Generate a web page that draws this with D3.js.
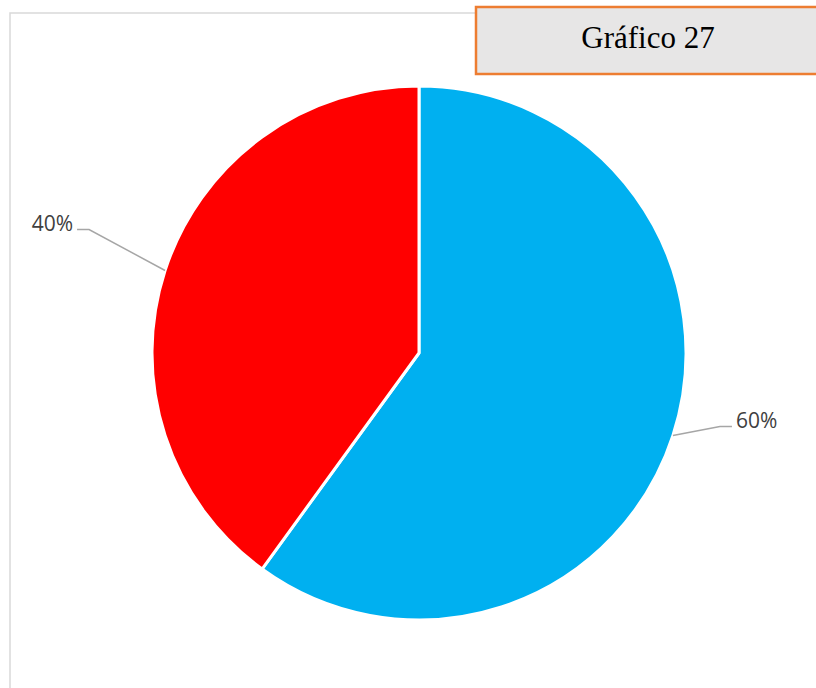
<!DOCTYPE html>
<html>
<head>
<meta charset="utf-8">
<script src="https://cdn.jsdelivr.net/npm/d3@7"></script>
<style>
  html, body { margin: 0; padding: 0; background: #ffffff; }
  svg { display: block; }
</style>
</head>
<body>
<svg id="chart" width="816" height="688"></svg>
<script>
// Share of answers (percent)
const categories = ["Sí", "No"];
const values = [60, 40];
const colors = ["#00B0F0", "#FF0000"];
const title = "Gráfico 27";

const svg = d3.select("#chart");
const W = 816, H = 688;

// Chart area frame
svg.append("rect")
  .attr("x", 10).attr("y", 13)
  .attr("width", W + 20).attr("height", H + 20)
  .attr("fill", "#ffffff")
  .attr("stroke", "#d9d9d9")
  .attr("stroke-width", 1.5);

// Title box
const tb = svg.append("g");
tb.append("rect")
  .attr("x", 476).attr("y", 7)
  .attr("width", 344).attr("height", 67)
  .attr("fill", "#e7e6e6")
  .attr("stroke", "#ED7D31")
  .attr("stroke-width", 2.5);
tb.append("text")
  .attr("x", 648).attr("y", 48)
  .attr("text-anchor", "middle")
  .attr("font-family", "'Liberation Serif', 'Times New Roman', serif")
  .attr("font-size", 31)
  .attr("fill", "#000000")
  .text(title);

// Pie
const cx = 419, cy = 353, r = 267;
const pie = d3.pie().sort(null).value(d => d)(values);
const arc = d3.arc().innerRadius(0).outerRadius(r);
const edge = d3.arc().innerRadius(r).outerRadius(r);

const g = svg.append("g").attr("transform", `translate(${cx},${cy})`);
g.selectAll("path.slice")
  .data(pie)
  .join("path")
  .attr("class", "slice")
  .attr("d", arc)
  .attr("fill", (d, i) => colors[i])
  .attr("stroke", "#ffffff")
  .attr("stroke-width", 3)
  .attr("stroke-linejoin", "round");

// Data labels with leader lines
const fmt = d3.format(".0%");
const total = d3.sum(values);
pie.forEach((d, i) => {
  const [ex, ey] = edge.centroid(d);
  const right = ex > 0;
  const s = right ? 1 : -1;
  const bx = ex + s * (right ? 47 : 76);
  const by = ey + (right ? -9 : -41);
  const hx = bx + s * 12;
  g.append("path")
    .attr("d", `M${ex},${ey}L${bx},${by}L${hx},${by}`)
    .attr("fill", "none")
    .attr("stroke", "#a6a6a6")
    .attr("stroke-width", 1.5);
  g.append("text")
    .attr("x", hx + s * 4)
    .attr("y", by + 1)
    .attr("text-anchor", right ? "start" : "end")
    .attr("font-family", "'Open Sans', 'Noto Sans', sans-serif")
    .attr("font-size", 21)
    .attr("fill", "#404040")
    .text(fmt(values[i] / total));
});
</script>
</body>
</html>
